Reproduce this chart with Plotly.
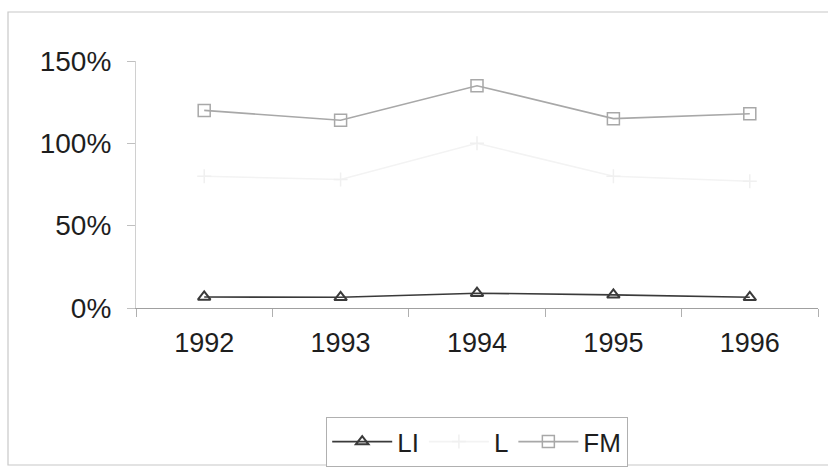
import plotly.graph_objects as go

years = ["1992", "1993", "1994", "1995", "1996"]
li_values = [6.7, 6.5, 9.0, 8.0, 6.5]
l_values = [80, 78, 100, 80, 77]
fm_values = [120, 114, 135, 115, 118]

W, H = 828, 467
M_L, M_R, M_T, M_B = 136, 10, 61, 159
plot_w = W - M_L - M_R
plot_h = H - M_T - M_B


def px_to_paper_x(px):
    return (px - M_L) / plot_w


def px_to_paper_y(py):
    return (H - M_B - py) / plot_h


fig = go.Figure()

fig.add_trace(go.Scatter(
    x=years, y=li_values, name="LI", mode="lines+markers",
    line=dict(color="#3a3a3a", width=1.6),
    marker=dict(symbol="triangle-up-open", size=11, color="#3a3a3a",
                line=dict(width=2, color="#3a3a3a")),
))
fig.add_trace(go.Scatter(
    x=years, y=l_values, name="L", mode="lines+markers",
    line=dict(color="#f3f3f3", width=1.6),
    marker=dict(symbol="cross-thin-open", size=10, color="#f0f0f0",
                line=dict(width=1.5, color="#f0f0f0")),
))
fig.add_trace(go.Scatter(
    x=years, y=fm_values, name="FM", mode="lines+markers",
    line=dict(color="#a8a8a8", width=1.6),
    marker=dict(symbol="square-open", size=12, color="#a8a8a8",
                line=dict(width=1.5, color="#a8a8a8")),
))

# outer chart frame
fig.add_shape(
    type="rect", xref="paper", yref="paper",
    x0=px_to_paper_x(8), x1=px_to_paper_x(840),
    y0=px_to_paper_y(465), y1=px_to_paper_y(12),
    line=dict(color="#c8c8c8", width=1.2), fillcolor="rgba(0,0,0,0)",
    layer="below",
)

fig.update_layout(
    width=W, height=H,
    margin=dict(l=M_L, r=M_R, t=M_T, b=M_B, autoexpand=False),
    paper_bgcolor="white", plot_bgcolor="white",
    font=dict(family="Liberation Sans, Arial, sans-serif", size=28, color="#1e1e1e"),
    showlegend=True,
    legend=dict(
        orientation="h", xanchor="center", yanchor="middle",
        x=px_to_paper_x(477), y=px_to_paper_y(442),
        bordercolor="#b0b0b0", borderwidth=1.2, bgcolor="white",
        font=dict(size=26, color="#1e1e1e"),
        itemwidth=60, tracegroupgap=0,
    ),
    xaxis=dict(
        type="category", range=[-0.5, 4.5],
        tickson="boundaries", ticks="outside", ticklen=8,
        tickcolor="#b0b0b0", showline=True, linecolor="#a0a0a0", linewidth=1.2,
        showgrid=False, zeroline=False, ticklabelstandoff=10,
        tickfont=dict(size=27),
    ),
    yaxis=dict(
        range=[0, 150], tickvals=[0, 50, 100, 150],
        ticktext=["0%", "50%", "100%", "150%"],
        ticks="outside", ticklen=8, tickcolor="#c0c0c0",
        showline=True, linecolor="#d0d0d0", linewidth=1.2,
        showgrid=False, zeroline=False, ticklabelstandoff=10,
        tickfont=dict(size=28),
    ),
)

fig.write_html("out.html")
